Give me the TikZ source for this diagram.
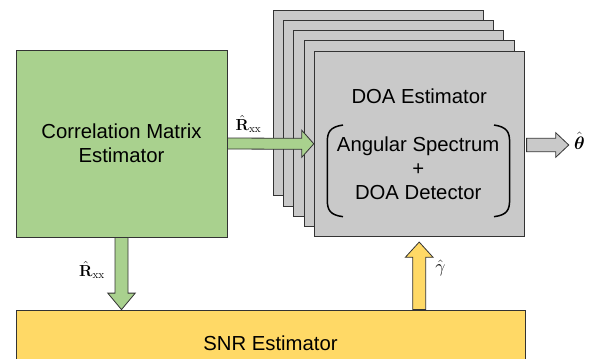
\documentclass[tikz,border=0pt]{standalone}
\usepackage{amsmath}
\usepackage{fix-cm}
\usepackage[no-math]{fontspec}
\setmainfont{Liberation Sans}
\usetikzlibrary{calc}
\usetikzlibrary{positioning}

\definecolor{corrgreen}{HTML}{A9D18E}
\definecolor{doagray}{HTML}{C9C9C9}
\definecolor{snryellow}{HTML}{FFD966}

\begin{document}
\begin{tikzpicture}[x=1pt,y=-1pt,line width=0.8pt,
    block/.style={draw=black!80,minimum width=210pt,minimum height=185.7pt,inner sep=0pt,align=center,font=\fontsize{20.3}{24}\selectfont},
    txt/.style={inner sep=0pt,font=\fontsize{20.3}{24}\selectfont,align=center},
    mathlbl/.style={inner sep=0pt},
    fatarrow/.style={draw=black!80,line width=0.8pt,line join=miter},
    paren/.style={draw=black,line width=1.5pt}]
  \useasboundingbox (0,0) rectangle (595,359);

  % stacked DOA estimators
  \foreach \k in {4,3,2,1}
    \node[block,fill=doagray]		(doa\k) at (419.2-10.2*\k,143.8-10.2*\k) {};
  \node[block,fill=doagray]		(doa)		at (419.2,143.8)	{};
  \node[txt]				(doatitle) at ($(doa.north)+(0,46)$)	{DOA Estimator};
  \node[txt]				(doainner) at ($(doa.center)+(-1,24.5)$)	{Angular Spectrum\\+\\DOA Detector};

  % brackets
  \draw[paren] (343,125) .. controls (330,127) and (327.3,132) .. (327.3,142) -- (327.3,200) .. controls (327.3,210) and (330,215) .. (343,216.7);
  \draw[paren] (494,125) .. controls (507,127) and (509.6,132) .. (509.6,142) -- (509.6,200) .. controls (509.6,210) and (507,215) .. (494,216.7);

  \node[block,fill=corrgreen,minimum width=211pt,minimum height=187pt]	(corr)	at (121.5,143.5)	{Correlation Matrix\\Estimator};
  \node[block,fill=snryellow,minimum width=509pt,minimum height=66pt]	(snr)	at (270.5,343)	{SNR Estimator};

  \node[mathlbl]			(theta)	at (579.5,140.5)	{\fontsize{18}{21}\selectfont$\hat{\boldsymbol{\theta}}$};
  \node[mathlbl]			(rxxa)	at (248.5,124)	{\fontsize{16}{19}\selectfont$\hat{\mathbf{R}}_{\mathrm{xx}}$};
  \node[mathlbl]			(rxxb)	at (92,270)	{\fontsize{16}{19}\selectfont$\hat{\mathbf{R}}_{\mathrm{xx}}$};
  \node[mathlbl]			(gamma)	at (440.5,268)	{\fontsize{18}{21}\selectfont$\hat{\gamma}$};

  \coordinate (snrin)	at (corr.south |- snr.north);
  \coordinate (snrout)	at (doa.south |- snr.north);
  \coordinate (doain)	at ($(doa.south)+(0,5)$);
  \coordinate (doaout)	at ($(doa.east)+(2,1.2)$);
  \coordinate (thetain)	at ($(theta.west)+(-5,4.5)$);

  % arrows
  \draw[fatarrow,fill=corrgreen] ($(corr.east)+(0,-5.5)$) -- ($(doa.west)+(-12,-5.5)$) -- ($(doa.west)+(-12,-13.5)$)
    -- (doa.west) -- ($(doa.west)+(-12,13.5)$) -- ($(doa.west)+(-12,5.5)$) -- ($(corr.east)+(0,5.5)$) -- cycle;
  \draw[fatarrow,fill=corrgreen] ($(corr.south)+(-6.5,0)$) -- ($(snrin)+(-6.5,-16.5)$) -- ($(snrin)+(-13.75,-16.5)$)
    -- (snrin) -- ($(snrin)+(13.75,-16.5)$) -- ($(snrin)+(6.5,-16.5)$) -- ($(corr.south)+(6.5,0)$) -- cycle;
  \draw[fatarrow,fill=snryellow] ($(snrout)+(-6.5,0)$) -- ($(doain)+(-6.5,15.2)$) -- ($(doain)+(-13.8,15.2)$)
    -- (doain) -- ($(doain)+(13.8,15.2)$) -- ($(doain)+(6.5,15.2)$) -- ($(snrout)+(6.5,0)$) -- cycle;
  \draw[fatarrow,fill=doagray] ($(doaout)+(0,-6.7)$) -- ($(doaout-|thetain)+(-13,-6.7)$) -- ($(doaout-|thetain)+(-13,-12.3)$)
    -- (doaout-|thetain) -- ($(doaout-|thetain)+(-13,12.3)$) -- ($(doaout-|thetain)+(-13,6.7)$) -- ($(doaout)+(0,6.7)$) -- cycle;
\end{tikzpicture}
\end{document}
